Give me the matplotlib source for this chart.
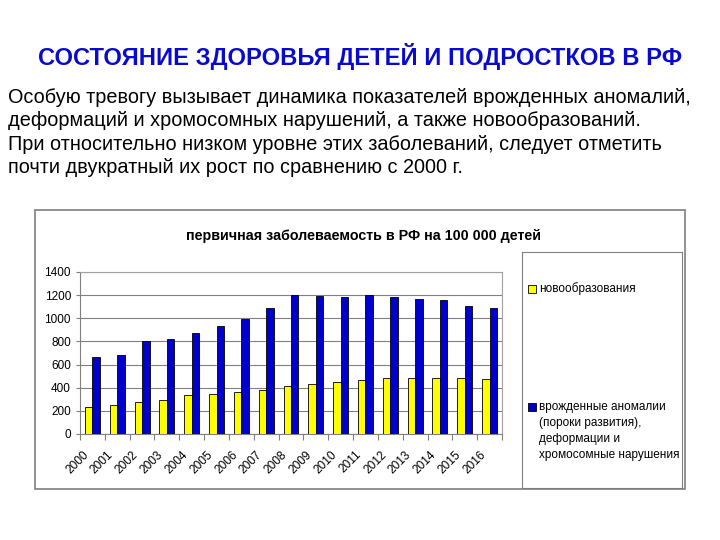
import numpy as np
import matplotlib
matplotlib.use('Agg')
import matplotlib.pyplot as plt
import matplotlib.ticker as ticker
from matplotlib.patches import Rectangle

plt.rcParams['font.family'] = ['Liberation Sans', 'DejaVu Sans']

### Data
years = ['2000', '2001', '2002', '2003', '2004', '2005', '2006', '2007', '2008',
         '2009', '2010', '2011', '2012', '2013', '2014', '2015', '2016']
neoplasms = [230, 247, 273, 290, 333, 348, 359, 379, 414,
             434, 448, 463, 483, 483, 483, 483, 474]
anomalies = [667, 681, 808, 825, 871, 934, 997, 1089, 1199,
             1193, 1184, 1204, 1184, 1164, 1156, 1104, 1087]

title = 'СОСТОЯНИЕ ЗДОРОВЬЯ ДЕТЕЙ И ПОДРОСТКОВ В РФ'
paragraph = [
    'Особую тревогу вызывает динамика показателей врожденных аномалий,',
    'деформаций и хромосомных нарушений, а также новообразований.',
    'При относительно низком уровне этих заболеваний, следует отметить',
    'почти двукратный их рост по сравнению с 2000 г.',
]
chart_title = 'первичная заболеваемость в РФ на 100 000 детей'
labels = ['новообразования',
          'врожденные аномалии\n(пороки развития),\nдеформации и\nхромосомные нарушения']

colors = {'neo': '#FFFF00', 'anom': '#0000CC'}

W, H = 720, 540
fig = plt.figure(figsize=(7.2, 5.4), dpi=100)

# Header text
fig.text(360 / W, 1 - 56 / H, title, ha='center', va='center',
         fontsize=17.1, fontweight='bold', color='#0A0ACC')
for i, line in enumerate(paragraph):
    fig.text(8 / W, 1 - (102.5 + 23.6 * i) / H, line, ha='left',
             va='baseline', fontsize=14.35, color='black')

# Outer chart frame
fig.patches.append(Rectangle((35 / W, 1 - 489 / H), 650 / W, 279 / H,
                             transform=fig.transFigure, fill=False,
                             edgecolor='#7F7F7F', linewidth=1.2))
fig.text(363 / W, 1 - 236 / H, chart_title, ha='center', va='center',
         fontsize=10.3, fontweight='bold')

### Bars
ax = fig.add_axes([80 / W, 1 - 434 / H, 422 / W, 162 / H])
x = np.arange(len(years))
w = 0.3
ax.bar(x - w / 2, neoplasms, w, color=colors['neo'], edgecolor='black',
       linewidth=0.6, zorder=3)
ax.bar(x + w / 2, anomalies, w, color=colors['anom'], edgecolor='black',
       linewidth=0.6, zorder=3)
ax.set_xlim(-0.5, len(years) - 0.5)
ax.set_ylim(0, 1400)
ax.yaxis.set_major_locator(ticker.MultipleLocator(200))
ax.yaxis.grid(color='#808080', linewidth=0.8, zorder=0)
ax.set_axisbelow(True)
ax.set_xticks(np.arange(len(years) + 1) - 0.5, minor=False)
ax.set_xticklabels([])
# labels sit a little left of the category centre, as in the original
ax.set_xticks(x - 0.4, minor=True)
ax.set_xticklabels(years, minor=True, rotation=45, ha='right',
                   rotation_mode='anchor', fontsize=8.6)
ax.tick_params(axis='x', which='major', length=4, color='#808080')
ax.tick_params(axis='x', which='minor', length=0, pad=10.5)
ax.tick_params(axis='y', length=3, color='#808080', labelsize=8.5)
for s in ['top', 'right']:
    ax.spines[s].set_color('#A0A0A0')
for s in ['left', 'bottom']:
    ax.spines[s].set_color('#808080')

### Legend box
lg = fig.add_axes([522 / W, 1 - 488 / H, 160 / W, 236 / H])
lg.set_xlim(0, 160)
lg.set_ylim(236, 0)
lg.set_xticks([])
lg.set_yticks([])
for s in lg.spines.values():
    s.set_color('#808080')
lg.add_patch(Rectangle((6, 33), 8, 8, facecolor=colors['neo'],
                       edgecolor='black', linewidth=0.6))
lg.text(17, 37, labels[0], va='center', ha='left', fontsize=8.5)
lg.add_patch(Rectangle((6, 151), 8, 8, facecolor=colors['anom'],
                       edgecolor='black', linewidth=0.6))
lg.text(17, 149, labels[1], va='top', ha='left', fontsize=8.5,
        linespacing=1.45)

fig.savefig('out.png', dpi=100)
